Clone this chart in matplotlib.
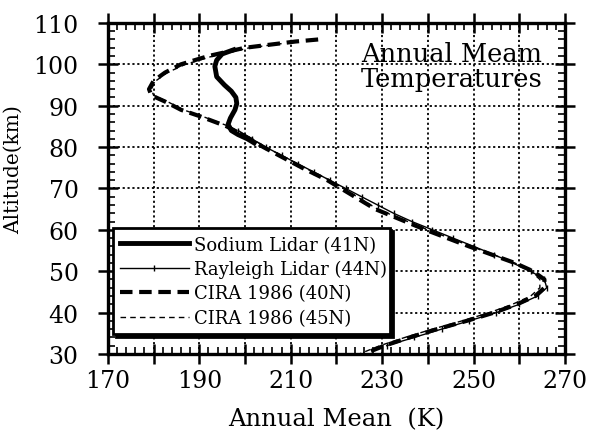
import numpy as np
import matplotlib.pyplot as plt
from matplotlib.ticker import MultipleLocator

plt.rcParams['font.family'] = ['DejaVu Serif']

# Sodium lidar (41N), thick solid
na_alt = [103.5, 102.5, 101, 99.5, 97, 95, 93.5, 92, 90.5, 89, 87, 85.5, 84, 83, 82, 81]
na_temp = [197.5, 195, 193.8, 193.4, 193.8, 195.5, 197, 198, 198.2, 197.8, 196.8, 196.3, 197, 198.5, 200.5, 202]

# Rayleigh lidar (44N), thin solid
ray_alt = [84, 82, 80, 78, 76, 74, 72, 70, 68, 66, 64, 62, 60, 58, 56, 54, 52, 50,
           48, 46, 44, 42, 40, 38, 36, 34, 32]
ray_temp = [198.5, 201.5, 204.5, 208, 211.5, 215, 218.5, 222, 225.5, 229, 232.5, 236.5, 241,
            245.5, 250, 254.5, 258.5, 262.5, 265.5, 266, 264, 260, 255, 249, 243, 237, 231]

# CIRA 1986 (40N), thick dashed
c40_alt = [106, 105.5, 104, 102, 100, 98, 96, 94, 92.5, 91, 89, 87.5, 85, 82, 80, 75, 72,
           70, 65, 60, 56, 52, 50, 48, 46, 44, 42, 40, 38, 36, 34, 32, 30]
c40_temp = [216, 211, 200, 192, 186, 182.5, 180, 179, 179.5, 182.5, 186, 190, 196, 201, 204,
            212.5, 218, 221, 228.5, 239.5, 249, 259, 263, 265.5, 265.5, 263.5, 259.5, 254.5,
            248.5, 242, 236, 230.5, 226]

# CIRA 1986 (45N), thin dashed
c45_alt = [105, 104, 102, 100, 98, 96, 94, 92.5, 91, 89, 87.5, 85, 82, 80, 75, 72,
           70, 65, 60, 56, 52, 50, 48, 46, 44, 42, 40, 38, 36, 34, 32, 30]
c45_temp = [208, 201, 193, 187, 183, 180.5, 179.5, 180, 183, 186.5, 190.5, 196.5, 201.5, 204.5,
            213, 218.5, 221.5, 229, 240, 249.5, 259, 262.5, 264.5, 264.5, 262.5, 258.5, 253.5,
            247.5, 241, 235, 229.5, 225]

fig = plt.figure(figsize=(5.96, 4.35), dpi=100)
ax = fig.add_axes([0.181, 0.184, 0.767, 0.761])

ax.plot(na_temp, na_alt, 'k-', lw=3.5, label='Sodium Lidar (41N)', zorder=5)
ax.plot(ray_temp, ray_alt, 'k-', lw=1.0, marker='|', ms=5, mew=1.0,
        label='Rayleigh Lidar (44N)', zorder=4)
ax.plot(c40_temp, c40_alt, 'k--', lw=3.0, dashes=(3, 1.6), label='CIRA 1986 (40N)', zorder=3)
ax.plot(c45_temp, c45_alt, 'k--', lw=1.0, dashes=(4, 3), label='CIRA 1986 (45N)', zorder=3)

ax.set_xlim(170, 270)
ax.set_ylim(30, 110)
ax.xaxis.set_minor_locator(MultipleLocator(2))
ax.yaxis.set_major_locator(MultipleLocator(10))
ax.yaxis.set_minor_locator(MultipleLocator(2))
ax.set_xticks(np.arange(170, 271, 10))
ax.set_xticklabels([str(v) if (v - 170) % 20 == 0 else '' for v in range(170, 271, 10)])

ax.grid(True, which='major', color='k', ls=(0, (1.2, 1.5)), lw=1.3)
ax.tick_params(which='major', direction='inout', length=14, width=1.8,
               top=True, right=True, labelsize=17)
ax.tick_params(axis='y', which='major', pad=14)
ax.tick_params(axis='x', which='major', pad=4)
ax.tick_params(which='minor', direction='in', length=5, width=1.2, top=True, right=True)
for s in ax.spines.values():
    s.set_linewidth(2.4)

ax.set_xlabel('Annual Mean  (K)', fontsize=17.5, labelpad=11)
ax.set_ylabel('Altitude(km)', fontsize=14.5)
ax.yaxis.set_label_coords(-0.186, 0.559)

ax.text(0.753, 0.945, 'Annual Meam\nTemperatures', transform=ax.transAxes,
        ha='center', va='top', fontsize=18.5, linespacing=1.0)

leg = ax.legend(loc='lower left', bbox_to_anchor=(0.011, 0.06, 0.606, 0.333),
                mode='expand', borderaxespad=0, fontsize=13, handlelength=3.8,
                handletextpad=0.3, labelspacing=0.35, fancybox=False,
                shadow={'color': 'k', 'alpha': 1, 'ox': 2, 'oy': -2},
                framealpha=1, edgecolor='k')
leg.get_frame().set_linewidth(2.0)
leg.set_zorder(10)

fig.savefig('out.png', dpi=100)
